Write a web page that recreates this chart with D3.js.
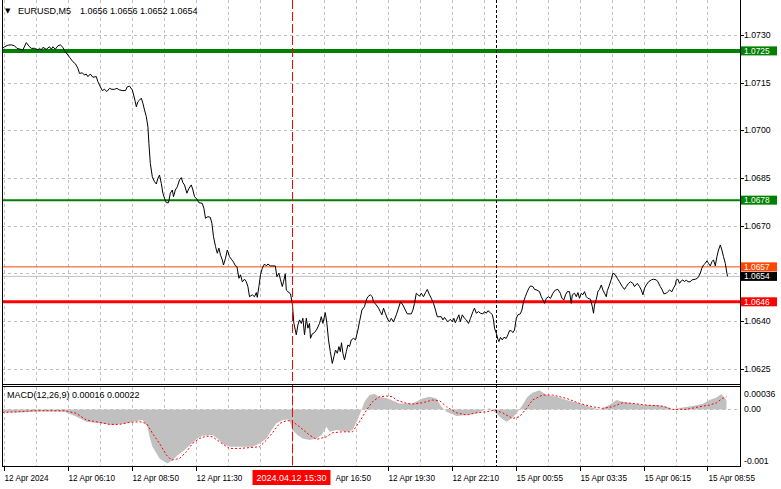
<!DOCTYPE html>
<html><head><meta charset="utf-8">
<script src="https://cdn.jsdelivr.net/npm/d3@7/dist/d3.min.js"></script>
<style>
body{margin:0;background:#fff}
svg{display:block}
text{font-family:"Liberation Sans",Arial,sans-serif;font-size:8.7px;fill:#000}
</style>
</head><body>
<svg id="c" width="781" height="489"></svg>
<script>
// ---------------- DATA ----------------
const symbolName = "EURUSD,M5";
const quote = [1.0656, 1.0656, 1.0652, 1.0654]; // O H L C
const macdTitle = "MACD(12,26,9)";
const macdReadout = [0.00016, 0.00022];

const priceTicks = [1.0730, 1.0715, 1.0700, 1.0685, 1.0670, 1.0655, 1.0640, 1.0625];
const levelValues = [1.0725, 1.0678, 1.0657, 1.0646];
const currentPrice = 1.0654;

const macdTicks = [0.00036, 0, -0.001];
const macdTickLabels = ["0.00036", "0.00", "-0.001"];

const timeTickBars = [1, 33, 65, 97, 129, 161, 193, 225, 257, 289, 321, 353];
const timeTickLabels = ["12 Apr 2024", "12 Apr 06:10", "12 Apr 08:50", "12 Apr 11:30", "12 Apr 14:10",
  "12 Apr 16:50", "12 Apr 19:30", "12 Apr 22:10", "15 Apr 00:55", "15 Apr 03:35", "15 Apr 06:15", "15 Apr 08:55"];
const eventBar = 145;
const eventLabel = "2024.04.12 15:30";
const dayBreakBar = 247;
const totalBars = 369.25;

// close price path: [bar index, price]
const pricePts = [
[0,1.07255],[1.5,1.07263],[3.2,1.07268],[4.9,1.07269],[6.5,1.07266],[7.7,1.07258],[10.7,1.07253],[12.4,1.07276],[13.7,1.07265],[14.9,1.07258],[16.5,1.07258],[18.2,1.07253],[19,1.07258],[19.9,1.07253],[20.7,1.07261],[22.4,1.07255],[24,1.07263],[24.9,1.07255],[25.7,1.07263],[26.9,1.07255],[28.2,1.07266],[29.4,1.07269],[30.7,1.07261],[31.5,1.07251],[33.2,1.07237],[34,1.07230],[35.7,1.07216],[37,1.07209],[38.2,1.07195],[39,1.07179],[40.4,1.07181],[41.5,1.07174],[42.4,1.07177],[43.2,1.07169],[44.4,1.07177],[45.7,1.07167],[47.4,1.07169],[48.2,1.07153],[49.4,1.07137],[50.4,1.07125],[51.5,1.07129],[52.7,1.07122],[54,1.07132],[55.2,1.07129],[56.5,1.07129],[57.7,1.07132],[59,1.07127],[60.7,1.07125],[62,1.07125],[62.9,1.07137],[64,1.07139],[65.4,1.07127],[66.2,1.07108],[66.9,1.07090],[67.4,1.07074],[68.2,1.07090],[69,1.07095],[69.9,1.07101],[70.7,1.07085],[71.5,1.07064],[72.4,1.07043],[73.2,1.07011],[73.7,1.06959],[74.4,1.06896],[75.4,1.06854],[76.5,1.06838],[77.4,1.06831],[78.2,1.06849],[79,1.06859],[79.9,1.06833],[80.7,1.06802],[81.5,1.06786],[82.4,1.06772],[83.5,1.06772],[84.4,1.06802],[85.4,1.06812],[86,1.06791],[86.9,1.06812],[87.9,1.06822],[89,1.06844],[89.9,1.06851],[90.7,1.06835],[91.5,1.06828],[92.7,1.06802],[93.7,1.06817],[94.9,1.06828],[95.7,1.06812],[96.5,1.06791],[97.7,1.06783],[98.7,1.06772],[100.4,1.06770],[101.2,1.06754],[102,1.06723],[103.2,1.06728],[104.4,1.06726],[105.2,1.06707],[106,1.06665],[107,1.06634],[107.9,1.06613],[108.7,1.06629],[109.5,1.06607],[110.4,1.06592],[111,1.06576],[112,1.06597],[112.9,1.06623],[114,1.06602],[115.2,1.06592],[116,1.06585],[117,1.06573],[117.7,1.06571],[118.7,1.06534],[119.5,1.06545],[120.4,1.06523],[121.5,1.06531],[122.4,1.06523],[123.2,1.06508],[124,1.06476],[125.4,1.06482],[126.5,1.06476],[127.4,1.06489],[127.9,1.06474],[128.7,1.06508],[129.5,1.06545],[130.4,1.06566],[131.5,1.06579],[132.4,1.06573],[133.2,1.06579],[134.4,1.06573],[136.9,1.06573],[137.7,1.06539],[138.7,1.06550],[139.5,1.06529],[140.4,1.06508],[141,1.06523],[141.9,1.06548],[142.4,1.06497],[143.2,1.06492],[144.5,1.06485],[145.4,1.06455],[146.2,1.06392],[146.9,1.06371],[147.4,1.06356],[148.2,1.06387],[149,1.06403],[149.9,1.06392],[150.7,1.06408],[151.5,1.06356],[152.4,1.06408],[153.2,1.06377],[154,1.06392],[154.5,1.06345],[155.4,1.06359],[156.5,1.06363],[157.7,1.06374],[159,1.06392],[159.9,1.06413],[160.7,1.06392],[161.9,1.06426],[162.7,1.06392],[163.5,1.06340],[164.4,1.06303],[165.4,1.06266],[166.2,1.06287],[167,1.06308],[167.9,1.06298],[168.7,1.06319],[169.4,1.06303],[170,1.06331],[170.7,1.06298],[171.5,1.06277],[172.4,1.06303],[173.2,1.06324],[174,1.06319],[174.9,1.06340],[176,1.06345],[177,1.06340],[178.2,1.06371],[179,1.06397],[180.2,1.06434],[181.5,1.06445],[182.4,1.06466],[183.2,1.06476],[184.4,1.06482],[185.4,1.06476],[186,1.06460],[187.4,1.06450],[188.5,1.06440],[189.4,1.06429],[190.2,1.06419],[191,1.06440],[191.9,1.06424],[193.2,1.06403],[194,1.06397],[194.9,1.06408],[196,1.06397],[197.4,1.06419],[198.5,1.06440],[199.5,1.06460],[200.7,1.06450],[201.9,1.06434],[202.9,1.06422],[204.9,1.06422],[205.7,1.06434],[206.5,1.06455],[207.4,1.06487],[208.2,1.06482],[209,1.06478],[209.9,1.06487],[211,1.06476],[212,1.06489],[212.9,1.06499],[214,1.06482],[214.9,1.06471],[216,1.06455],[217,1.06434],[217.9,1.06413],[219.9,1.06413],[220.7,1.06403],[221.5,1.06411],[222.4,1.06403],[223.2,1.06397],[224.4,1.06405],[225.4,1.06397],[226.2,1.06408],[226.9,1.06394],[227.7,1.06405],[228.7,1.06419],[229.4,1.06397],[230.4,1.06419],[231.5,1.06408],[232.4,1.06403],[233.5,1.06392],[234.5,1.06408],[235.7,1.06429],[236.5,1.06440],[237.4,1.06424],[238.5,1.06429],[239.5,1.06424],[240.7,1.06422],[241.5,1.06429],[242.4,1.06424],[243.2,1.06432],[244.4,1.06426],[245.4,1.06419],[246,1.06403],[246.5,1.06377],[247.4,1.06361],[248.2,1.06342],[248.7,1.06335],[249.5,1.06348],[250.4,1.06340],[251.2,1.06348],[252.4,1.06345],[253.2,1.06356],[254,1.06369],[254.9,1.06369],[255.7,1.06363],[256.5,1.06371],[257.4,1.06408],[258.2,1.06419],[259.4,1.06422],[260.2,1.06434],[261,1.06460],[261.9,1.06476],[262.7,1.06489],[263.7,1.06503],[264.5,1.06510],[265.7,1.06508],[266.5,1.06499],[267.7,1.06497],[269,1.06492],[269.9,1.06476],[270.7,1.06466],[271.5,1.06455],[272.4,1.06471],[273.5,1.06476],[274.5,1.06471],[275.7,1.06487],[276.9,1.06497],[278.2,1.06499],[279.4,1.06487],[280.2,1.06471],[281.2,1.06466],[282,1.06482],[282.9,1.06492],[284,1.06492],[284.9,1.06455],[285.4,1.06482],[286.5,1.06487],[287.4,1.06476],[288.2,1.06489],[289,1.06471],[289.9,1.06487],[290.7,1.06482],[291.5,1.06492],[292.4,1.06476],[293.2,1.06471],[294.5,1.06468],[295.4,1.06445],[296,1.06424],[296.5,1.06450],[297.4,1.06468],[298.2,1.06492],[299,1.06499],[299.9,1.06513],[300.7,1.06497],[301.5,1.06487],[302.4,1.06476],[302.9,1.06495],[303.7,1.06508],[304.9,1.06531],[305.7,1.06550],[306.9,1.06545],[307.9,1.06534],[309,1.06523],[310.4,1.06508],[311.5,1.06499],[312.4,1.06508],[313.5,1.06518],[314.5,1.06523],[315.7,1.06518],[316.5,1.06508],[317.9,1.06518],[319,1.06508],[319.9,1.06497],[320.7,1.06482],[321.5,1.06503],[322.4,1.06513],[323.5,1.06523],[324.9,1.06529],[326,1.06531],[327.4,1.06529],[328.2,1.06523],[329.4,1.06508],[330.4,1.06497],[331.2,1.06485],[332.4,1.06487],[333.2,1.06492],[334,1.06497],[335.2,1.06492],[336,1.06503],[336.9,1.06513],[337.4,1.06529],[338.2,1.06531],[339,1.06518],[339.9,1.06526],[340.7,1.06529],[341.5,1.06523],[342.4,1.06529],[343.2,1.06523],[344.4,1.06523],[345.2,1.06529],[346.9,1.06531],[347.9,1.06534],[348.5,1.06539],[349.4,1.06550],[350.2,1.06566],[351,1.06576],[351.9,1.06581],[352.7,1.06589],[353.5,1.06581],[354.4,1.06573],[355.2,1.06586],[356,1.06592],[356.9,1.06573],[357.7,1.06602],[358.5,1.06623],[359.4,1.06639],[360.2,1.06623],[361,1.06602],[361.9,1.06581],[362.7,1.06550],[363,1.06540]
];

// MACD main (histogram): [bar index, value]
const macdMain = [
[0.5,-0.000053],[9,-0.000053],[19,-0.000039],[31.5,-0.000042],[37.5,-0.000131],[42.5,-0.000219],[49,-0.000247],[55.5,-0.000277],[62.5,-0.000247],[65.5,-0.000219],[70.5,-0.000189],[73,-0.000307],[74,-0.000484],[75.5,-0.000661],[77.5,-0.000777],[79,-0.000866],[81.5,-0.000926],[83,-0.000954],[85.5,-0.000896],[88,-0.000808],[91.5,-0.000719],[95,-0.000601],[98,-0.000513],[100.5,-0.000467],[105.5,-0.000454],[108,-0.000513],[110.5,-0.000601],[114,-0.000661],[125.5,-0.000661],[129,-0.000601],[132.5,-0.000513],[135,-0.000366],[137.5,-0.000247],[140.5,-0.000189],[143.5,-0.000177],[144.5,-0.000247],[145.5,-0.000366],[148,-0.000454],[150.5,-0.000513],[154,-0.000542],[157.5,-0.000513],[160,-0.000454],[162.5,-0.000307],[164,-0.000396],[167.5,-0.000366],[172.5,-0.000396],[175.5,-0.000366],[178,-0.000189],[180,-0.000012],[181.5,0.000134],[184,0.000253],[186.5,0.00027],[189,0.000217],[192.5,0.0002],[199,0.000106],[205.5,0.000106],[210.5,0.000194],[214,0.000223],[217.5,0.000194],[220,0.000046],[222.5,-0.000042],[227.5,-0.000118],[232.5,-0.000101],[237.5,-0.000071],[240.5,-0.000025],[244,0.000018],[246.5,-0.000042],[250,-0.000159],[252.5,-0.000219],[255,-0.000159],[257.5,-0.000071],[260.5,0.000076],[263,0.000223],[265.5,0.000293],[269,0.00034],[272.5,0.000253],[277.5,0.000223],[282.5,0.000164],[289,0.000106],[294,0.000046],[299,0],[304,0.000076],[307.5,0.000164],[310.5,0.000134],[315.5,0.000106],[320.5,0.000076],[327.5,0.000076],[332.5,0.000046],[335.5,0],[340.5,0.000035],[345.5,0.000058],[350.5,0.000094],[354,0.000164],[357.5,0.000212],[360,0.00027],[362.5,0.00016]
];

// MACD signal line: [bar index, value]
const macdSignal = [
[0.5,-0.000054],[9,-0.00004],[15.5,-0.000024],[30.5,-0.000024],[32.5,-0.00003],[37.5,-0.000071],[42.5,-0.000189],[47.5,-0.000218],[54,-0.000265],[59,-0.000265],[64,-0.00023],[69,-0.000218],[72.5,-0.000248],[75.5,-0.000424],[79,-0.000601],[82.5,-0.000808],[85,-0.000896],[89,-0.000866],[92.5,-0.000749],[95.5,-0.000601],[99,-0.000513],[102.5,-0.000472],[105.5,-0.000484],[109,-0.000572],[114,-0.00069],[119,-0.00069],[129,-0.00066],[132.5,-0.000542],[135.5,-0.000413],[139,-0.000248],[142.5,-0.000201],[145,-0.000201],[149,-0.000307],[154,-0.000454],[157.5,-0.00053],[162.5,-0.000484],[165.5,-0.000413],[170.5,-0.000396],[175.5,-0.000396],[179,-0.000218],[182.5,-0.000012],[185.5,0.000135],[189,0.000223],[192.5,0.000235],[195.5,0.000223],[197.5,0.000165],[202.5,0.000106],[205.5,0.000094],[210.5,0.000117],[215.5,0.000165],[219,0.000153],[222.5,0.000047],[227.5,-0.00006],[232.5,-0.0001],[237.5,-0.00006],[242.5,-0.000042],[246.5,-0.000012],[250.5,-0.00006],[255.5,-0.00016],[259,-0.00013],[262.5,0.000018],[265.5,0.000165],[270.5,0.000253],[275.5,0.000253],[282.5,0.000194],[289,0.000106],[295.5,0.000047],[300.5,0.000018],[305.5,0.000047],[310.5,0.000117],[315.5,0.000106],[322.5,0.000076],[330.5,0.000058],[335.5,0],[342.5,0],[349,0.000047],[354,0.000076],[357.5,0.000117],[360.5,0.000194],[362.5,0.00022]
];

// ---------------- LAYOUT / STYLE ----------------
const W = 781, H = 489;
const L = 2, R = 740;
const priceTop = 0, priceBot = 384, macdTop = 387, macdBot = 466;
const gridColor = "#c0c0c0";
const tagH = 9;
const levelStyle = [
  {color:"#008000", width:4},
  {color:"#008000", width:2},
  {color:"#ff4500", width:1},
  {color:"#ff0000", width:3}
];

const svg = d3.select("#c");
svg.append("rect").attr("width", W).attr("height", H).attr("fill", "#fff");

const x = d3.scaleLinear().domain([0, totalBars]).range([1.5, 740]);
const y = d3.scaleLinear().domain([1.0625, 1.0730]).range([368.5, 35]);
const ym = d3.scaleLinear().domain([-0.001, 0.00036]).range([466, 389]);

const defs = svg.append("defs");
defs.append("clipPath").attr("id","cp").append("rect").attr("x",L).attr("y",priceTop).attr("width",R-L).attr("height",priceBot-priceTop);
defs.append("clipPath").attr("id","cm").append("rect").attr("x",L).attr("y",macdTop).attr("width",R-L).attr("height",macdBot-macdTop);

const gP = svg.append("g").attr("clip-path","url(#cp)");
const gM = svg.append("g").attr("clip-path","url(#cm)");

// vertical grid
const gridBars = d3.range(1, totalBars - 1, 16);
[[gP, priceTop, priceBot], [gM, macdTop, macdBot]].forEach(([g, t, b]) => {
  g.selectAll(null).data(gridBars).enter().append("line")
    .attr("x1", d => Math.round(x(d)) + 0.5).attr("x2", d => Math.round(x(d)) + 0.5)
    .attr("y1", t).attr("y2", b)
    .attr("stroke", gridColor).attr("stroke-width", 1).attr("stroke-dasharray", "3,3");
});
// horizontal price grid
gP.selectAll(null).data(priceTicks).enter().append("line")
  .attr("x1", L).attr("x2", R)
  .attr("y1", d => Math.round(y(d)) + 0.5).attr("y2", d => Math.round(y(d)) + 0.5)
  .attr("stroke", gridColor).attr("stroke-dasharray", "3,3");
// macd zero grid
gM.append("line").attr("x1", L).attr("x2", R)
  .attr("y1", Math.round(ym(0)) + 0.5).attr("y2", Math.round(ym(0)) + 0.5)
  .attr("stroke", gridColor).attr("stroke-dasharray", "3,3");

// current price line
gP.append("line").attr("x1", L).attr("x2", R)
  .attr("y1", y(currentPrice)).attr("y2", y(currentPrice))
  .attr("stroke", "#c0c0c0").attr("stroke-width", 1);

// level lines
gP.selectAll(null).data(levelValues).enter().append("line")
  .attr("x1", L).attr("x2", R)
  .attr("y1", d => y(d)).attr("y2", d => y(d))
  .attr("stroke", (d,i) => levelStyle[i].color)
  .attr("stroke-width", (d,i) => levelStyle[i].width);

// price line
gP.append("path").datum(pricePts)
  .attr("d", d3.line().x(d => x(d[0])).y(d => y(d[1])))
  .attr("fill", "none").attr("stroke", "#000").attr("stroke-width", 1);

// MACD histogram (area from zero)
gM.append("path").datum(macdMain)
  .attr("d", d3.area().x(d => x(d[0])).y0(ym(0)).y1(d => ym(d[1])))
  .attr("fill", "#c0c0c0");
// MACD signal
gM.append("path").datum(macdSignal)
  .attr("d", d3.line().x(d => x(d[0])).y(d => ym(d[1])))
  .attr("fill", "none").attr("stroke", "#ff0000").attr("stroke-width", 1).attr("stroke-dasharray", "2,2");

// event vertical lines
const ex = Math.round(x(eventBar)) + 0.5;
svg.append("line").attr("x1", ex).attr("x2", ex).attr("y1", priceTop).attr("y2", macdBot)
  .attr("stroke", "#ff0000").attr("stroke-dasharray", "9,3");
const dx = Math.round(x(dayBreakBar)) + 0.5;
svg.append("line").attr("x1", dx).attr("x2", dx).attr("y1", priceTop).attr("y2", macdBot)
  .attr("stroke", "#000").attr("stroke-dasharray", "3,2");

// frames
const frame = svg.append("g").attr("stroke", "#000").attr("stroke-width", 1);
frame.append("line").attr("x1", L+0.5).attr("x2", L+0.5).attr("y1", 0).attr("y2", macdBot+0.5);
frame.append("line").attr("x1", R+0.5).attr("x2", R+0.5).attr("y1", 0).attr("y2", macdBot+0.5);
frame.append("line").attr("x1", L).attr("x2", R+1).attr("y1", priceBot+0.5).attr("y2", priceBot+0.5);
frame.append("line").attr("x1", L).attr("x2", R+1).attr("y1", macdTop-0.5).attr("y2", macdTop-0.5);
frame.append("line").attr("x1", L).attr("x2", R+1).attr("y1", macdBot+0.5).attr("y2", macdBot+0.5);

// right price axis (labels hidden behind tags are not drawn, as in the reference)
const tagVals = levelValues.concat([currentPrice]);
const ax = svg.append("g");
ax.selectAll(null).data(priceTicks).enter().append("line")
  .attr("x1", R).attr("x2", R+4).attr("y1", d => Math.round(y(d))+0.5).attr("y2", d => Math.round(y(d))+0.5)
  .attr("stroke", "#000");
ax.selectAll(null).data(priceTicks.filter(t => tagVals.every(v => Math.abs(y(v) - y(t)) > 9))).enter().append("text")
  .attr("x", R+4).attr("y", d => y(d)).attr("dy", "0.35em")
  .text(d => d.toFixed(4));

// level label boxes
function tag(v, bg) {
  const yy = y(v);
  ax.append("rect").attr("x", R+1).attr("y", yy-tagH/2).attr("width", 36).attr("height", tagH).attr("fill", bg);
  ax.append("text").attr("x", R+4).attr("y", yy).attr("dy", "0.35em").style("fill", "#fff").style("font-size","8.4px").text(v.toFixed(4));
}
levelValues.forEach((v,i) => tag(v, levelStyle[i].color));
tag(currentPrice, "#000");

// macd axis
ax.selectAll(null).data(macdTicks).enter().append("text")
  .attr("x", R+4)
  .attr("y", (d,i) => ym(d) + (i===0 ? 5 : i===2 ? -5 : 0)).attr("dy", "0.35em")
  .text((d,i) => macdTickLabels[i]);

// titles
svg.append("text").attr("x", 5).attr("y", 13).style("font-family", "DejaVu Sans").style("font-size", "7px").text("▼");
svg.append("text").attr("x", 18).attr("y", 14).style("font-size", "9px").text(symbolName);
svg.append("text").attr("x", 80).attr("y", 14).style("font-size", "9px").text(quote.map(d => d.toFixed(4)).join(" "));
svg.append("text").attr("x", 7).attr("y", 398).style("font-size", "9px")
  .text(macdTitle + " " + macdReadout.map(d => d.toFixed(5)).join(" "));

// time axis
const evW = 78;
const evL = x(eventBar) - evW/2, evR = x(eventBar) + evW/2;
const evPad = 5;
const tclip = defs.append("clipPath").attr("id","ct");
tclip.append("rect").attr("x",0).attr("y",macdBot).attr("width",evL).attr("height",H-macdBot);
tclip.append("rect").attr("x",evR+evPad).attr("y",macdBot).attr("width",W-evR-evPad).attr("height",H-macdBot);

const tx = svg.append("g").attr("clip-path","url(#ct)");
tx.selectAll(null).data(timeTickBars).enter().append("line")
  .attr("x1", d => Math.round(x(d))+0.5).attr("x2", d => Math.round(x(d))+0.5)
  .attr("y1", macdBot+1).attr("y2", macdBot+5).attr("stroke", "#000");
// a label fully hidden under the event box is skipped
const visTicks = timeTickBars.map((b,i) => ({b, t: timeTickLabels[i]}))
  .filter(d => !(x(d.b) >= evL && x(d.b) + 50 <= evR + 20));
tx.selectAll(null).data(visTicks).enter().append("text")
  .attr("x", d => x(d.b) + 1).attr("y", 481).style("font-size", "8.2px")
  .text(d => d.t);

// event label on time axis
svg.append("rect").attr("x", evL).attr("y", 470).attr("width", evW).attr("height", 15).attr("fill", "#ff0000");
svg.append("text").attr("x", x(eventBar)).attr("y", 481).attr("text-anchor", "middle")
  .style("fill", "#fff").style("font-size", "9px").text(eventLabel);
</script>
</body></html>
